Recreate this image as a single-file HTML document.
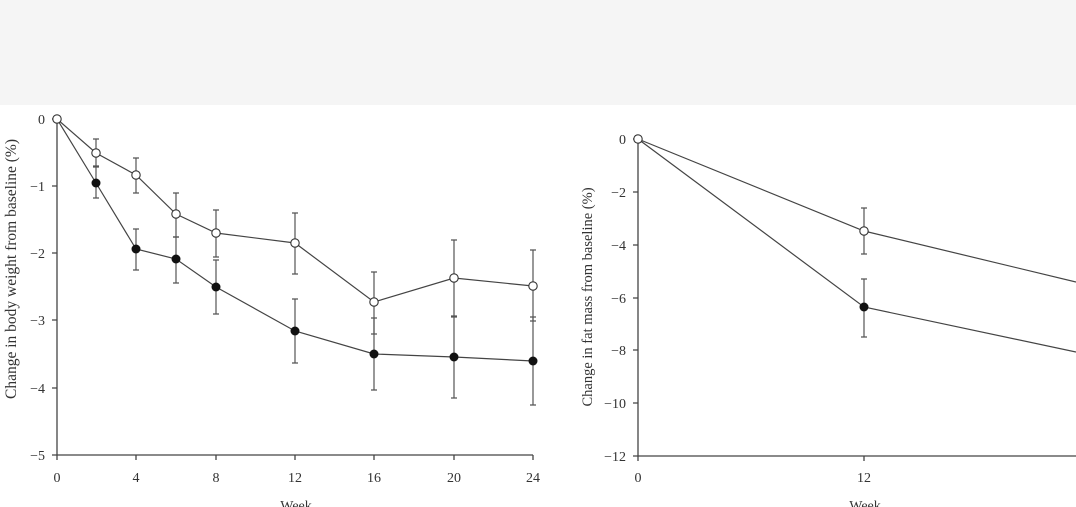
<!DOCTYPE html>
<html><head><style>body{margin:0;background:#fff}svg{display:block}text{font-family:"Liberation Serif",serif;fill:#333}</style></head><body>
<svg width="1076" height="507" viewBox="0 0 1076 507">
<rect x="0" y="0" width="1076" height="105" fill="#f5f5f5"/>
<g stroke="#444" stroke-width="1.3" fill="none">
<path d="M57,119V455H533"/>
<path d="M52,119H57M52,186H57M52,253H57M52,320H57M52,388H57M52,455H57"/>
<path d="M57,455v5M136,455v5M216,455v5M295,455v5M374,455v5M454,455v5M533,455v5"/>
<path d="M638,139V456H1076"/>
<path d="M633,139H638M633,192H638M633,245H638M633,298H638M633,350H638M633,403H638M633,456H638"/>
<path d="M638,456v5M864,456v5"/>
</g>
<g font-size="14" text-anchor="end">
<text x="45" y="124">0</text><text x="45" y="191">−1</text><text x="45" y="258">−2</text><text x="45" y="325">−3</text><text x="45" y="393">−4</text><text x="45" y="460">−5</text>
<text x="626" y="144">0</text><text x="626" y="197">−2</text><text x="626" y="250">−4</text><text x="626" y="303">−6</text><text x="626" y="355">−8</text><text x="626" y="408">−10</text><text x="626" y="461">−12</text>
</g>
<g font-size="14" text-anchor="middle">
<text x="57" y="482">0</text><text x="136" y="482">4</text><text x="216" y="482">8</text><text x="295" y="482">12</text><text x="374" y="482">16</text><text x="454" y="482">20</text><text x="533" y="482">24</text>
<text x="296" y="510">Week</text>
<text x="638" y="482">0</text><text x="864" y="482">12</text><text x="865" y="510">Week</text>
<text transform="translate(16,269) rotate(-90)" font-size="15.5">Change in body weight from baseline (%)</text>
<text transform="translate(592,297) rotate(-90)" font-size="14.5">Change in fat mass from baseline (%)</text>
</g>
<g stroke="#555" stroke-width="1.2" fill="none">
<path d="M96,139V166M93,139H99M93,166H99"/>
<path d="M136,158V193M133,158H139M133,193H139"/>
<path d="M176,193V237M173,193H179M173,237H179"/>
<path d="M216,210V257M213,210H219M213,257H219"/>
<path d="M295,213V274M292,213H298M292,274H298"/>
<path d="M374,272V334M371,272H377M371,334H377"/>
<path d="M454,240V317M451,240H457M451,317H457"/>
<path d="M533,250V321M530,250H536M530,321H536"/>
<path d="M96,167V198M93,167H99M93,198H99"/>
<path d="M136,229V270M133,229H139M133,270H139"/>
<path d="M176,237V283M173,237H179M173,283H179"/>
<path d="M216,260V314M213,260H219M213,314H219"/>
<path d="M295,299V363M292,299H298M292,363H298"/>
<path d="M374,318V390M371,318H377M371,390H377"/>
<path d="M454,316V398M451,316H457M451,398H457"/>
<path d="M533,317V405M530,317H536M530,405H536"/>
<path d="M864,208V254M861,208H867M861,254H867"/>
<path d="M864,279V337M861,279H867M861,337H867"/>
</g>
<g stroke="#444" stroke-width="1.2" fill="none">
<polyline points="57,119 96,153 136,175 176,214 216,233 295,243 374,302 454,278 533,286"/>
<polyline points="57,119 96,183 136,249 176,259 216,287 295,331 374,354 454,357 533,361"/>
<polyline points="638,139 864,231 1076,282"/>
<polyline points="638,139 864,307 1076,352"/>
</g>
<g fill="#fff" stroke="#333" stroke-width="1.1">
<circle cx="57" cy="119" r="4.2"/><circle cx="96" cy="153" r="4.2"/><circle cx="136" cy="175" r="4.2"/><circle cx="176" cy="214" r="4.2"/><circle cx="216" cy="233" r="4.2"/><circle cx="295" cy="243" r="4.2"/><circle cx="374" cy="302" r="4.2"/><circle cx="454" cy="278" r="4.2"/><circle cx="533" cy="286" r="4.2"/>
<circle cx="638" cy="139" r="4.2"/><circle cx="864" cy="231" r="4.2"/>
</g>
<g fill="#111">
<circle cx="96" cy="183" r="4.5"/><circle cx="136" cy="249" r="4.5"/><circle cx="176" cy="259" r="4.5"/><circle cx="216" cy="287" r="4.5"/><circle cx="295" cy="331" r="4.5"/><circle cx="374" cy="354" r="4.5"/><circle cx="454" cy="357" r="4.5"/><circle cx="533" cy="361" r="4.5"/>
<circle cx="864" cy="307" r="4.5"/>
</g>
</svg>
</body></html>
